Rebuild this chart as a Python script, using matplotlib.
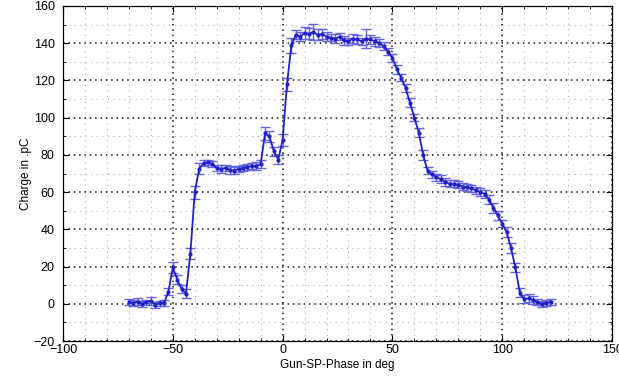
import matplotlib
matplotlib.use('Agg')
import matplotlib.pyplot as plt
from matplotlib.ticker import MultipleLocator

phase = [-70, -68, -66, -64, -62, -60, -58, -56, -54, -52,
         -50, -48, -46, -44, -42, -40, -38, -36, -34, -32,
         -30, -28, -26, -24, -22, -20, -18, -16, -14, -12,
         -10, -8, -6, -4, -2, 0, 2, 4, 6, 8,
         10, 12, 14, 16, 18, 20, 22, 24, 26, 28,
         30, 32, 34, 36, 38, 40, 42, 44, 46, 48,
         50, 52, 54, 56, 58, 60, 62, 64, 66, 68,
         70, 72, 74, 76, 78, 80, 82, 84, 86, 88,
         90, 92, 94, 96, 98, 100, 102, 104, 106, 108,
         110, 112, 114, 116, 118, 120, 122]
charge = [1.0, 0.5, 1.2, 0.0, 0.8, 1.5, -0.5, 0.2, 0.5, 6.5,
          19.5, 13.0, 8.0, 5.5, 27.0, 60.0, 72.5, 75.5, 76.0, 75.0,
          73.0, 72.5, 73.0, 72.0, 71.5, 72.5, 73.0, 73.5, 74.0, 74.0,
          75.0, 91.5, 90.0, 82.0, 77.5, 88.0, 118.0, 139.0, 144.5, 143.5,
          145.5, 145.0, 146.0, 144.5, 145.0, 143.5, 143.0, 142.5, 143.5, 141.5,
          141.0, 142.5, 142.0, 141.0, 142.5, 142.0, 141.0, 140.0, 138.5, 135.5,
          132.0, 126.0, 121.5, 116.0, 108.0, 100.0, 92.0, 80.0, 71.5, 69.5,
          68.0, 67.0, 65.5, 64.5, 64.5, 64.0, 63.0, 62.5, 62.0, 61.0,
          60.0, 59.0, 56.0, 51.5, 47.5, 43.0, 38.5, 30.0, 19.5, 6.0,
          2.5, 3.0, 2.0, 1.0, 0.0, 0.5, 1.0]
charge_err = [1.5, 1.5, 2.0, 1.5, 1.5, 2.0, 1.5, 1.5, 1.5, 2.0,
              3.0, 2.5, 2.0, 2.5, 3.0, 3.5, 3.0, 1.5, 1.5, 1.5,
              1.5, 2.0, 1.5, 2.0, 2.0, 1.5, 1.5, 1.5, 1.5, 2.0,
              2.0, 3.5, 3.0, 2.5, 2.5, 3.0, 3.5, 4.0, 2.5, 2.5,
              3.0, 3.0, 4.5, 3.0, 2.5, 2.5, 2.0, 2.5, 2.0, 2.5,
              2.0, 2.5, 2.5, 2.0, 5.0, 2.5, 2.5, 2.0, 2.0, 2.0,
              2.0, 2.5, 2.0, 2.0, 2.5, 2.0, 2.5, 2.5, 2.0, 2.0,
              2.0, 2.0, 2.0, 2.0, 2.0, 2.0, 2.0, 2.0, 2.0, 2.0,
              2.0, 2.0, 2.5, 2.5, 2.5, 2.0, 2.5, 2.5, 2.5, 2.5,
              2.0, 2.0, 2.0, 1.5, 1.5, 1.5, 1.5]

plt.rcParams['font.family'] = ['Liberation Sans', 'DejaVu Sans']

fig = plt.figure(figsize=(6.19, 3.82), dpi=100)
ax = fig.add_axes([0.1018, 0.1073, 0.8869, 0.877])

ax.errorbar(phase, charge, yerr=charge_err, fmt='.-', color='#2020c8',
            ecolor='#6464e4', elinewidth=1.0, capsize=3.5, capthick=1.0,
            markersize=4, linewidth=1.3)

ax.set_xlim(-100, 150)
ax.set_ylim(-20, 160)
ax.xaxis.set_major_locator(MultipleLocator(50))
ax.xaxis.set_minor_locator(MultipleLocator(10))
ax.yaxis.set_major_locator(MultipleLocator(20))
ax.yaxis.set_minor_locator(MultipleLocator(10))

ax.grid(which='major', color='#111111', linestyle=(0, (1, 2.5)), linewidth=1.1)
ax.grid(which='minor', color='#b0b0b0', linestyle=(0, (1, 4)), linewidth=0.8)
ax.set_axisbelow(True)

ax.tick_params(which='both', direction='in', top=True, right=True,
               labelsize=9)
ax.tick_params(axis='x', pad=2)
ax.tick_params(axis='y', pad=6)
ax.tick_params(which='major', length=4)
ax.tick_params(which='minor', length=2)
for s in ax.spines.values():
    s.set_linewidth(0.9)

ax.set_xlabel('Gun-SP-Phase in deg', fontsize=8.5, labelpad=2)
ax.set_ylabel('Charge in .pC', fontsize=8.5, labelpad=1)

fig.savefig('out.png', dpi=100)
